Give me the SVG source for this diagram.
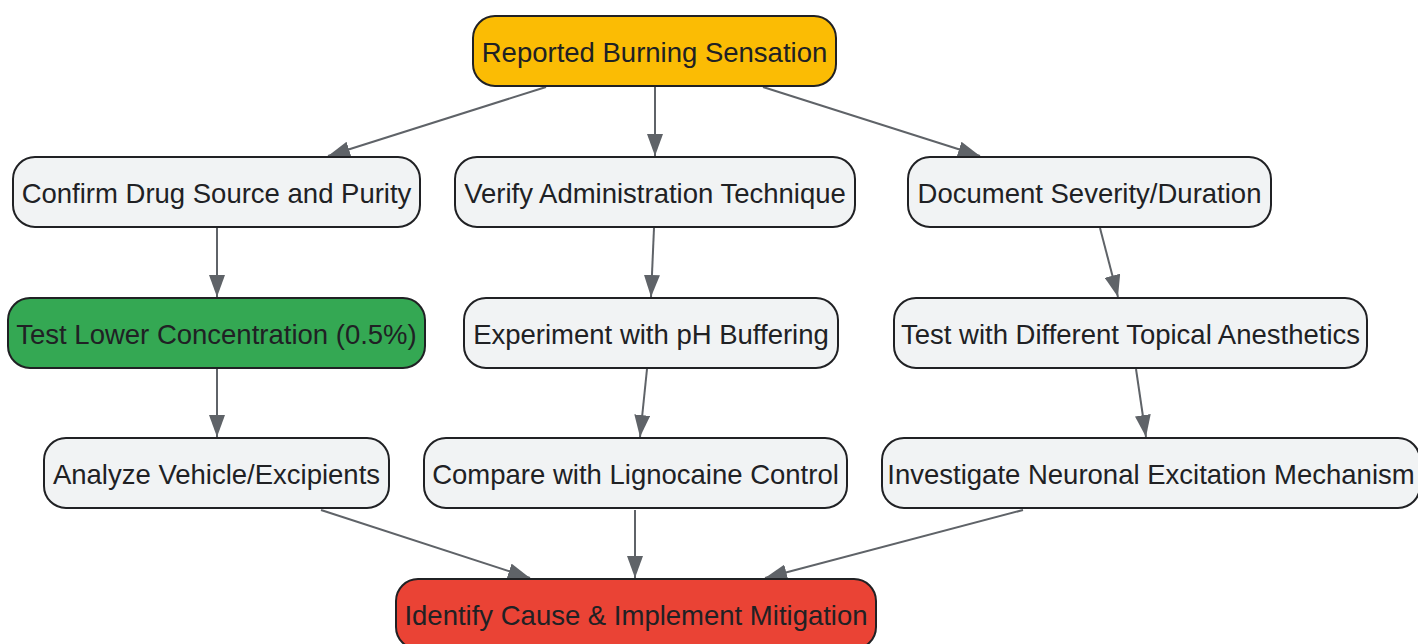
<svg xmlns="http://www.w3.org/2000/svg" width="1418" height="644" viewBox="0 0 1418 644">
<style>
.n rect{stroke:#202124;stroke-width:2}
.g rect{fill:#F1F3F4}
.n text{font-family:"Liberation Sans",Arial,sans-serif;font-size:27.5px;fill:#202124;text-anchor:middle;dominant-baseline:central}
.e line{stroke:#5F6368;stroke-width:2;marker-end:url(#ah)}
</style>
<defs>
<marker id="ah" viewBox="0 0 22 16" refX="22" refY="8" markerWidth="22" markerHeight="16" markerUnits="userSpaceOnUse" orient="auto">
<path d="M0,0 L22,8 L0,16 z" fill="#5F6368"/>
</marker>
</defs>
<rect width="1418" height="644" fill="#ffffff"/>
<g class="e" id="connectors">
<line x1="546" y1="87" x2="328" y2="156"/>
<line x1="655" y1="87" x2="655" y2="156"/>
<line x1="763" y1="87" x2="980" y2="156"/>
<line x1="217" y1="228" x2="217" y2="297"/>
<line x1="654" y1="228" x2="651" y2="297"/>
<line x1="1100" y1="228" x2="1118" y2="297"/>
<line x1="217" y1="369" x2="217" y2="437"/>
<line x1="647" y1="369" x2="640" y2="437"/>
<line x1="1136" y1="369" x2="1146" y2="437"/>
<line x1="321" y1="510" x2="530" y2="578"/>
<line x1="635" y1="510" x2="635" y2="578"/>
<line x1="1023" y1="510" x2="765" y2="578"/>
</g>
<g class="n" id="reported"><rect x="473" y="16" width="363" height="70" rx="22" fill="#FBBC04"/><text x="654.5" y="52">Reported Burning Sensation</text></g>
<g class="n g" id="confirm"><rect x="13" y="157" width="407" height="70" rx="22"/><text x="216.5" y="193">Confirm Drug Source and Purity</text></g>
<g class="n g" id="verify"><rect x="455" y="157" width="400" height="70" rx="22"/><text x="655" y="193">Verify Administration Technique</text></g>
<g class="n g" id="document"><rect x="908" y="157" width="363" height="70" rx="22"/><text x="1089.5" y="193">Document Severity/Duration</text></g>
<g class="n" id="testlower"><rect x="8" y="298" width="417" height="70" rx="22" fill="#34A853"/><text x="216.5" y="334">Test Lower Concentration (0.5%)</text></g>
<g class="n g" id="experiment"><rect x="464" y="298" width="374" height="70" rx="22"/><text x="651" y="334">Experiment with pH Buffering</text></g>
<g class="n g" id="testdiff"><rect x="894" y="298" width="473" height="70" rx="22"/><text x="1130.5" y="334">Test with Different Topical Anesthetics</text></g>
<g class="n g" id="analyze"><rect x="44" y="438" width="345" height="70" rx="22"/><text x="216.5" y="474">Analyze Vehicle/Excipients</text></g>
<g class="n g" id="compare"><rect x="424" y="438" width="423" height="70" rx="22"/><text x="635.5" y="474">Compare with Lignocaine Control</text></g>
<g class="n g" id="investigate"><rect x="882" y="438" width="538" height="70" rx="22"/><text x="1151" y="474">Investigate Neuronal Excitation Mechanism</text></g>
<g class="n" id="identify"><rect x="396" y="579" width="480" height="70" rx="22" fill="#EA4335"/><text x="636" y="615">Identify Cause &amp; Implement Mitigation</text></g>
</svg>
